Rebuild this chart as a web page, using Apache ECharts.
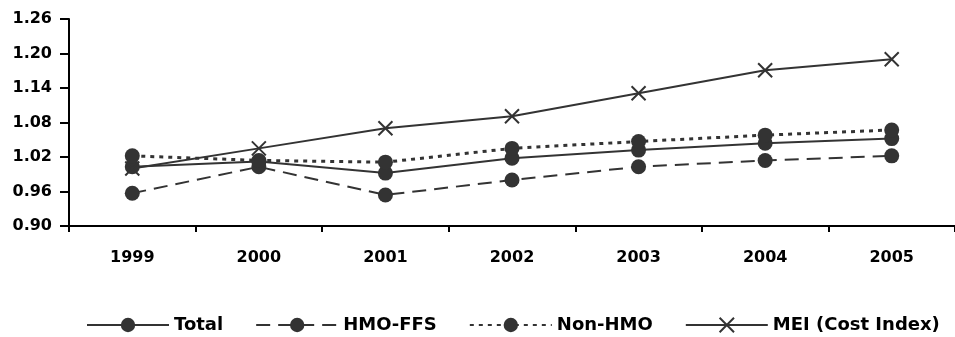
<!DOCTYPE html>
<html>
<head>
<meta charset="utf-8">
<script src="https://cdn.jsdelivr.net/npm/echarts@6/dist/echarts.min.js"></script>
<style>
html,body{margin:0;padding:0;background:#fff;}
#chart{width:955px;height:337px;}
</style>
</head>
<body>
<div id="chart"></div>
<script>
var years = ['1999','2000','2001','2002','2003','2004','2005'];
var yTicks = [0.90, 0.96, 1.02, 1.08, 1.14, 1.20, 1.26];
var seriesNames = ['Total','HMO-FFS','Non-HMO','MEI (Cost Index)'];
var totalValues  = [1.003, 1.012, 0.992, 1.018, 1.032, 1.044, 1.052];
var hmoFfsValues = [0.957, 1.003, 0.954, 0.980, 1.003, 1.014, 1.022];
var nonHmoValues = [1.022, 1.014, 1.011, 1.035, 1.047, 1.058, 1.067];
var meiValues    = [1.000, 1.035, 1.070, 1.091, 1.131, 1.171, 1.190];

var C = '#333333';
var FONT = 'DejaVu Sans';
var xPath = 'path://M0,0L10,10M10,0L0,10';

function mk(name, data, lineType, symbol, lw) {
  var s = {
    name: name,
    type: 'line',
    data: data,
    symbol: symbol,
    symbolSize: 15,
    lineStyle: { color: C, width: lw, type: lineType, cap: 'butt' },
    itemStyle: { color: C },
    emphasis: { disabled: true },
    animation: false
  };
  if (symbol !== 'circle') {
    s.symbolSize = 14;
    s.itemStyle = { color: C, borderColor: C, borderWidth: 2 };
  }
  return s;
}

var chart = echarts.init(document.getElementById('chart'), null, { renderer: 'canvas' });
chart.setOption({
  backgroundColor: '#ffffff',
  animation: false,
  grid: { left: 69, right: -9, top: 19, bottom: 111, containLabel: false },
  legend: {
    data: seriesNames,
    left: 81,
    top: 311,
    itemWidth: 82,
    itemHeight: 18,
    itemGap: 32,
    textStyle: { fontFamily: FONT, fontWeight: 'bold', fontSize: 18, color: '#000' }
  },
  xAxis: {
    type: 'category',
    data: years,
    boundaryGap: true,
    axisLine: { lineStyle: { color: '#000', width: 2 } },
    axisTick: { show: true, length: 6, lineStyle: { color: '#000', width: 2 } },
    axisLabel: { fontFamily: FONT, fontWeight: 'bold', fontSize: 16, color: '#000', margin: 24 }
  },
  yAxis: {
    type: 'value',
    min: yTicks[0],
    max: yTicks[yTicks.length - 1],
    interval: 0.06,
    splitLine: { show: false },
    axisLine: { show: true, lineStyle: { color: '#000', width: 2 } },
    axisTick: { show: true, length: 9, lineStyle: { color: '#000', width: 2 } },
    axisLabel: {
      fontFamily: FONT, fontWeight: 'bold', fontSize: 16, color: '#000', margin: 17,
      formatter: function (v) { return v.toFixed(2); }
    }
  },
  series: [
    mk(seriesNames[0], totalValues, 'solid', 'circle', 2),
    mk(seriesNames[1], hmoFfsValues, [14, 8], 'circle', 2),
    mk(seriesNames[2], nonHmoValues, [4, 5], 'circle', 3),
    mk(seriesNames[3], meiValues, 'solid', xPath, 2)
  ]
});
</script>
</body>
</html>
